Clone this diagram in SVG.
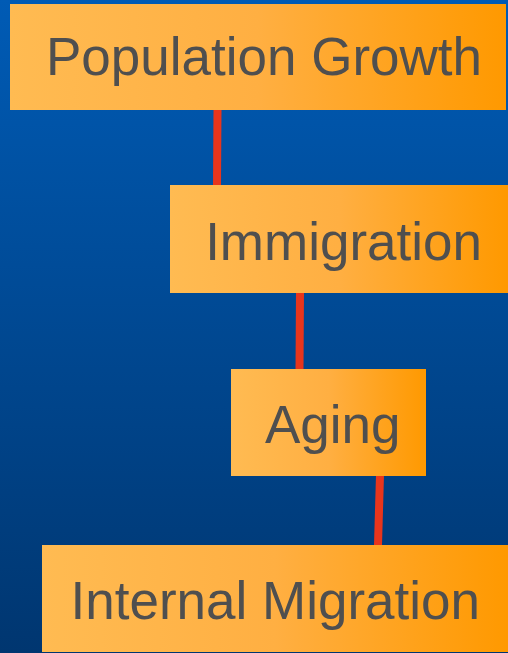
<svg xmlns="http://www.w3.org/2000/svg" width="508" height="653" viewBox="0 0 508 653">
  <defs>
    <linearGradient id="bg" x1="0" y1="0" x2="0" y2="1">
      <stop offset="0" stop-color="#005BB5"/>
      <stop offset="1" stop-color="#003670"/>
    </linearGradient>
    <linearGradient id="box" x1="0" y1="0" x2="1" y2="0">
      <stop offset="0" stop-color="#FFBB52"/>
      <stop offset="0.5" stop-color="#FFAF42"/>
      <stop offset="1" stop-color="#FF9900"/>
    </linearGradient>
    <style>
      .node rect { fill: url(#box); }
      .node text { font-family: "Liberation Sans", Arial, sans-serif; font-size: 53px; fill: #4F4F4F; text-anchor: end; }
      .conn line { stroke: #E8351C; stroke-width: 8; }
    </style>
  </defs>
  <rect x="0" y="0" width="508" height="653" fill="url(#bg)"/>
  <g id="connectors" class="conn">
    <line x1="217.5" y1="110" x2="217" y2="185"/>
    <line x1="300" y1="292" x2="299.5" y2="369"/>
    <line x1="380" y1="475" x2="378" y2="545"/>
  </g>
  <g id="population-growth" class="node">
    <rect x="10" y="4" width="496" height="106"/>
    <text x="482" y="75">Population Growth</text>
  </g>
  <g id="immigration" class="node">
    <rect x="170" y="185" width="338" height="108"/>
    <text x="482" y="260">Immigration</text>
  </g>
  <g id="aging" class="node">
    <rect x="231" y="369" width="195" height="107"/>
    <text x="400.5" y="443">Aging</text>
  </g>
  <g id="internal-migration" class="node">
    <rect x="42" y="545" width="466" height="107"/>
    <text x="480" y="619">Internal Migration</text>
  </g>
</svg>
